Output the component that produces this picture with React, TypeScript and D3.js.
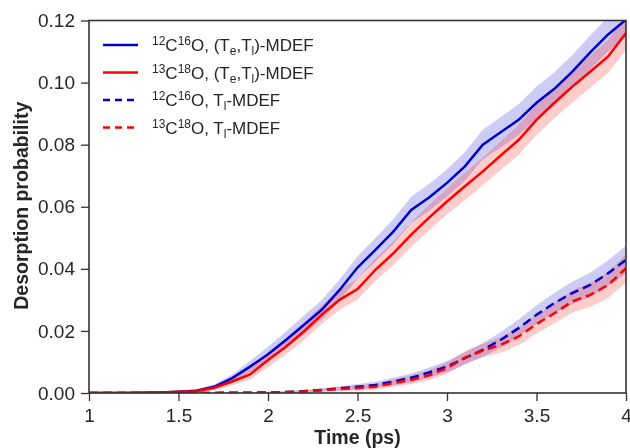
import * as d3 from 'd3';
import { useEffect, useRef } from 'react';

const times = [1.0, 1.1, 1.2, 1.3, 1.4, 1.5, 1.6, 1.7, 1.8, 1.9, 2.0, 2.1, 2.2, 2.3, 2.4, 2.5,
  2.6, 2.7, 2.8, 2.9, 3.0, 3.1, 3.2, 3.3, 3.4, 3.5, 3.6, 3.7, 3.8, 3.9, 4.0];

const co12Full = [0, 0, 0, 0.0001, 0.0002, 0.0004, 0.0007, 0.002, 0.0048, 0.0085, 0.0125, 0.0171,
  0.0219, 0.0268, 0.0332, 0.0404, 0.0461, 0.052, 0.059, 0.063, 0.0677, 0.073, 0.080, 0.084, 0.088,
  0.0935, 0.098, 0.1035, 0.1097, 0.1155, 0.1203];
const co12FullErr = [0, 0, 0, 0.0001, 0.0002, 0.0003, 0.0005, 0.0008, 0.0012, 0.0018, 0.0024, 0.0027,
  0.003, 0.0032, 0.0034, 0.0036, 0.0038, 0.004, 0.0042, 0.0043, 0.0044, 0.0046, 0.0048, 0.0049, 0.005,
  0.0052, 0.0053, 0.0054, 0.0055, 0.0055, 0.0056];

const co13Full = [0, 0, 0, 0.0001, 0.0002, 0.0004, 0.0006, 0.0017, 0.0037, 0.006, 0.0106, 0.0149,
  0.0198, 0.0252, 0.030, 0.0335, 0.0397, 0.045, 0.051, 0.0565, 0.0617, 0.0666, 0.0714, 0.0765, 0.0815,
  0.088, 0.0935, 0.0987, 0.1035, 0.1084, 0.116];
const co13FullErr = [0, 0, 0, 0.0001, 0.0002, 0.0003, 0.0005, 0.0008, 0.0012, 0.0017, 0.0022, 0.0025,
  0.0028, 0.003, 0.0032, 0.0034, 0.0036, 0.0038, 0.004, 0.0041, 0.0042, 0.0044, 0.0045, 0.0046, 0.0048,
  0.0049, 0.005, 0.0051, 0.0052, 0.0053, 0.0054];

const co12Tl = [0, 0, 0, 0, 0, 0, 0, 0, 0.0001, 0.0001, 0.0002, 0.0003, 0.0006, 0.001, 0.0015, 0.002,
  0.0026, 0.0037, 0.0049, 0.0066, 0.0085, 0.0112, 0.0139, 0.0171, 0.0209, 0.0252, 0.029, 0.0322,
  0.0348, 0.0386, 0.0429];
const co12TlErr = [0, 0, 0, 0, 0, 0, 0, 0, 0.0001, 0.0001, 0.0002, 0.0003, 0.0004, 0.0005, 0.0007, 0.0009,
  0.001, 0.0012, 0.0014, 0.0016, 0.0018, 0.002, 0.0022, 0.0025, 0.0028, 0.003, 0.0033, 0.0036,
  0.0039, 0.0042, 0.0045];

const co13Tl = [0, 0, 0, 0, 0, 0, 0, 0, 0.0001, 0.0001, 0.0002, 0.0003, 0.0005, 0.0009, 0.0013, 0.0016,
  0.002, 0.0032, 0.0042, 0.0057, 0.008, 0.0114, 0.0137, 0.0155, 0.0182, 0.0222, 0.0257, 0.0295,
  0.0316, 0.0348, 0.0402];
const co13TlErr = [0, 0, 0, 0, 0, 0, 0, 0, 0.0001, 0.0001, 0.0002, 0.0003, 0.0004, 0.0005, 0.0007, 0.0009,
  0.001, 0.0012, 0.0014, 0.0016, 0.0018, 0.002, 0.0022, 0.0025, 0.0028, 0.003, 0.0033, 0.0036,
  0.0039, 0.0042, 0.0045];

const xTicks = [1, 1.5, 2, 2.5, 3, 3.5, 4];
const yTicks = [0, 0.02, 0.04, 0.06, 0.08, 0.1, 0.12];

const BLUE = '#0000cc';
const RED = '#ff0000';

const series = [
  { key: 'a', values: co12Full, err: co12FullErr, color: BLUE, dashed: false, mass: ['12', '16'], tl: true },
  { key: 'b', values: co13Full, err: co13FullErr, color: RED, dashed: false, mass: ['13', '18'], tl: true },
  { key: 'c', values: co12Tl, err: co12TlErr, color: BLUE, dashed: true, mass: ['12', '16'], tl: false },
  { key: 'd', values: co13Tl, err: co13TlErr, color: RED, dashed: true, mass: ['13', '18'], tl: false },
];

const W = 630;
const H = 448;
const margin = { top: 20.5, right: 4, bottom: 55, left: 89 };
const FONT = '"Liberation Sans", Arial, sans-serif';

export default function App() {
  const ref = useRef<SVGSVGElement>(null);

  useEffect(() => {
    const svg = d3.select(ref.current);
    svg.selectAll('*').remove();

    const innerW = W - margin.left - margin.right;
    const innerH = H - margin.top - margin.bottom;

    const x = d3.scaleLinear().domain([1, 4]).range([0, innerW]);
    const y = d3.scaleLinear().domain([0, 0.12]).range([innerH, 0]);

    const g = svg.append('g').attr('transform', `translate(${margin.left},${margin.top})`);

    g.append('clipPath').attr('id', 'plot-clip')
      .append('rect').attr('width', innerW).attr('height', innerH);

    const plot = g.append('g').attr('clip-path', 'url(#plot-clip)');

    const area = d3.area<number>()
      .x((_, i) => x(times[i]));
    const line = d3.line<number>()
      .x((_, i) => x(times[i]))
      .y(d => y(d));

    // bands first, then lines
    series.forEach(s => {
      plot.append('path')
        .datum(s.values)
        .attr('d', area.y0((d, i) => y(d - s.err[i])).y1((d, i) => y(d + s.err[i])))
        .attr('fill', s.color)
        .attr('fill-opacity', 0.2);
    });
    series.forEach(s => {
      plot.append('path')
        .datum(s.values)
        .attr('d', line)
        .attr('fill', 'none')
        .attr('stroke', s.color)
        .attr('stroke-width', 2.5)
        .attr('stroke-dasharray', s.dashed ? '9,5' : null);
    });

    // axes
    const xMinor = d3.range(1, 4.001, 0.25);
    const yMinor = d3.range(0, 0.1201, 0.01);

    const xAxis = g.append('g').attr('transform', `translate(0,${innerH})`);
    xAxis.call(d3.axisBottom(x).tickValues(xMinor).tickSize(4).tickFormat(() => ''));
    xAxis.call(d3.axisBottom(x).tickValues(xTicks).tickSize(8).tickPadding(8).tickFormat(d3.format('')));

    const yAxis = g.append('g');
    yAxis.call(d3.axisLeft(y).tickValues(yMinor).tickSize(4).tickFormat(() => ''));
    yAxis.call(d3.axisLeft(y).tickValues(yTicks).tickSize(8).tickPadding(6).tickFormat(d3.format('.2f')));

    g.selectAll('.domain').remove();
    g.selectAll('.tick line').attr('stroke', '#333').attr('stroke-width', 1.3);
    g.selectAll('.tick text')
      .attr('fill', '#262626')
      .style('font-family', FONT)
      .style('font-size', '19px');

    // frame
    g.append('rect')
      .attr('width', innerW)
      .attr('height', innerH)
      .attr('fill', 'none')
      .attr('stroke', '#333')
      .attr('stroke-width', 1.6);

    // axis labels
    svg.append('text')
      .attr('x', margin.left + innerW / 2)
      .attr('y', 444)
      .attr('text-anchor', 'middle')
      .attr('fill', '#262626')
      .style('font-family', FONT)
      .style('font-size', '19.5px')
      .style('font-weight', 'bold')
      .text('Time (ps)');

    svg.append('text')
      .attr('transform', `translate(28,${margin.top + innerH / 2 - 1}) rotate(-90)`)
      .attr('text-anchor', 'middle')
      .attr('fill', '#262626')
      .style('font-family', FONT)
      .style('font-size', '19.5px')
      .style('font-weight', 'bold')
      .text('Desorption probability');

    // legend
    const legend = svg.append('g').attr('transform', 'translate(103,45)');
    series.forEach((s, i) => {
      const row = legend.append('g').attr('transform', `translate(0,${i * 27.5})`);
      row.append('line')
        .attr('x1', 0).attr('x2', 35)
        .attr('stroke', s.color)
        .attr('stroke-width', 2.5)
        .attr('stroke-dasharray', s.dashed ? '7,5' : null);
      const t = row.append('text')
        .attr('x', 49)
        .attr('y', 6)
        .attr('fill', '#262626')
        .style('font-family', FONT)
        .style('font-size', '17px');
      t.append('tspan').attr('dy', -6).style('font-size', '12px').text(s.mass[0]);
      t.append('tspan').attr('dy', 6).text('C');
      t.append('tspan').attr('dy', -6).style('font-size', '12px').text(s.mass[1]);
      t.append('tspan').attr('dy', 6).text(s.tl ? 'O, (T' : 'O, T');
      if (s.tl) {
        t.append('tspan').attr('dy', 4).style('font-size', '12px').text('e');
        t.append('tspan').attr('dy', -4).text(',T');
      }
      t.append('tspan').attr('dy', 4).style('font-size', '12px').text('l');
      t.append('tspan').attr('dy', -4).text(s.tl ? ')-MDEF' : '-MDEF');
    });

    return () => {
      svg.selectAll('*').remove();
    };
  }, []);

  return (
    <svg ref={ref} width={W} height={H} style={{ position: 'fixed', left: 0, top: 0, display: 'block' }} />
  );
}
